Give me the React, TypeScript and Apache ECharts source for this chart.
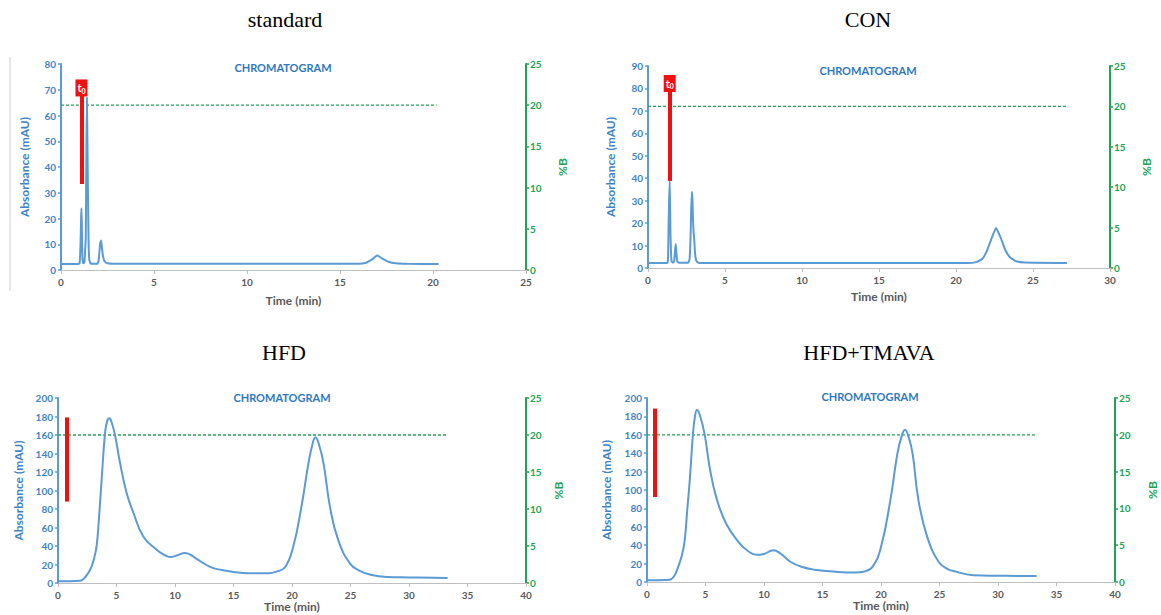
import React, { useEffect, useRef } from "react";
import * as echarts from "echarts";

// ---- Data (time in min, absorbance in mAU) ----
const panelTitles = ["standard", "CON", "HFD", "HFD+TMAVA"];
const xMax = [25, 30, 40, 40];
const yMax = [80, 90, 200, 200];
const yInterval = [10, 10, 20, 20];

const standardTrace: [number, number][] = [
  [0, 2.3], [0.9, 2.3], [1.0, 2.6], [1.05, 10], [1.08, 20], [1.1, 24], [1.12, 18], [1.15, 5], [1.2, 2.6],
  [1.26, 3], [1.3, 8], [1.33, 12], [1.36, 40], [1.39, 67], [1.42, 50], [1.45, 30], [1.48, 12], [1.52, 4],
  [1.6, 2.5], [1.95, 2.4], [2.03, 4], [2.1, 10], [2.16, 11.5], [2.21, 8], [2.27, 5], [2.35, 3.3], [2.5, 2.6],
  [3, 2.4], [16, 2.4], [16.4, 2.8], [16.7, 4], [17.0, 5.6], [17.3, 4.3], [17.6, 3.2], [18.0, 2.6], [18.6, 2.4],
  [20.3, 2.3],
];

const conTrace: [number, number][] = [
  [0, 2.2], [1.25, 2.2], [1.3, 4], [1.34, 20], [1.37, 30], [1.41, 38.8], [1.44, 25], [1.46, 15], [1.49, 8],
  [1.53, 3], [1.62, 2.4], [1.7, 3], [1.76, 8], [1.8, 10.7], [1.84, 7], [1.9, 3], [2.0, 2.3], [2.6, 2.3],
  [2.7, 4], [2.77, 15], [2.8, 25], [2.85, 34], [2.89, 30], [2.92, 22], [2.96, 16], [3.0, 13], [3.05, 7],
  [3.12, 3.5], [3.25, 2.4], [3.5, 2.2], [20.8, 2.2], [21.3, 2.6], [21.7, 4], [22.0, 7.5], [22.3, 13],
  [22.6, 17.8], [22.9, 13.5], [23.2, 8], [23.5, 4.8], [23.9, 3], [24.5, 2.4], [27.2, 2.2],
];

const hfdTrace: [number, number][] = [
  [0, 2], [1.0, 2], [1.9, 2.5], [2.3, 6], [2.74, 14], [3.05, 25], [3.3, 40], [3.5, 70], [3.73, 112], [4.02, 162],
  [4.2, 175], [4.39, 178], [4.6, 173], [4.87, 160], [5.3, 130], [5.87, 97], [6.44, 76], [7.3, 50], [8.43, 36],
  [9.0, 31], [9.6, 28], [10.2, 30], [10.85, 32.5], [11.4, 30], [11.85, 26], [13.0, 17.5], [14.0, 14], [15.0, 12],
  [16.7, 10.5], [18.0, 10.5], [18.6, 12], [19.4, 17], [20.1, 39], [20.8, 82], [21.4, 129], [21.75, 150],
  [22.0, 157.5], [22.3, 150], [22.7, 129], [23.25, 82], [23.96, 46], [24.96, 21], [25.8, 13], [26.7, 9],
  [28.1, 6.5], [30, 6], [33.3, 5.5],
];

const hfdTmavaTrace: [number, number][] = [
  [0, 2], [1.0, 2], [1.94, 2.5], [2.3, 6], [2.65, 16], [3.0, 30], [3.22, 45], [3.45, 80], [3.65, 110], [3.93, 161],
  [4.1, 180], [4.27, 187], [4.5, 182], [4.92, 161], [5.35, 125], [5.92, 92], [6.78, 63], [7.92, 42], [8.6, 34],
  [9.35, 29.5], [10.0, 30.5], [10.8, 34.5], [11.4, 31], [12.26, 22], [13.2, 16.5], [14.3, 13.4], [16.3, 11],
  [17.8, 10.3], [18.6, 11.5], [19.3, 17], [20.0, 38], [20.8, 89], [21.4, 139.6], [21.75, 158], [22.05, 165.5],
  [22.35, 158], [22.7, 139.6], [23.2, 89], [23.95, 49], [24.94, 21.7], [25.7, 14], [26.5, 10.9], [27.9, 7.3],
  [30, 6.8], [33.3, 6.5],
];

// %B gradient (right axis)
const standardB: [number, number][] = [[0, 20], [20.2, 20]];
const conB: [number, number][] = [[0, 20], [27.2, 20]];
const hfdB: [number, number][] = [[0, 20], [33.3, 20]];
const hfdTmavaB: [number, number][] = [[0, 20], [33.3, 20]];

// t0 markers: [time, top mAU, bottom mAU, hasLabel]
const t0Markers: [number, number, number, boolean][] = [
  [1.1, 74, 33.4, true],
  [1.41, 86, 38.8, true],
  [0.77, 179, 88, false],
  [0.68, 188.5, 92.4, false],
];

const traces = [standardTrace, conTrace, hfdTrace, hfdTmavaTrace];
const gradients = [standardB, conB, hfdB, hfdTmavaB];

// ---- Layout ----
const grids = [
  { left: 61, top: 64, width: 465, height: 206 },
  { left: 648, top: 66, width: 462, height: 202 },
  { left: 58, top: 398, width: 468, height: 185 },
  { left: 647, top: 398, width: 468, height: 184 },
];
const titlePos = [[285, 19], [868, 19], [284, 352], [869, 352]];
const chromPos = [[283, 67], [868, 70], [282, 397], [870, 396]];
const yNameGap = [31, 32, 34, 35];
const xNameGap = [24, 22, 17, 17];
const bNameGap = [30, 30, 26, 31];
const smoothness = [0.15, 0.15, 0.45, 0.45];

const BLUE = "#5b9bd5";
const BLUE_TEXT = "#3f83c6";
const GREEN = "#21a355";
const GRAY_TEXT = "#595959";
const FONT = "Lato, 'Open Sans', sans-serif";

export default function App() {
  const ref = useRef<HTMLDivElement>(null);
  useEffect(() => {
    if (!ref.current) return;
    const chart = echarts.init(ref.current, undefined, { renderer: "svg" });

    const xAxis: any[] = [];
    const yAxis: any[] = [];
    const series: any[] = [];
    const graphic: any[] = [];

    grids.forEach((g, i) => {
      xAxis.push({
        type: "value",
        gridIndex: i,
        min: 0,
        max: xMax[i],
        interval: 5,
        name: "Time (min)",
        nameLocation: "middle",
        nameGap: xNameGap[i],
        nameTextStyle: { color: GRAY_TEXT, fontSize: 12, fontWeight: "bold", fontFamily: FONT },
        axisLine: { show: true, onZero: false, lineStyle: { color: "#bfbfbf", width: 1 } },
        axisTick: { show: true, length: 4, lineStyle: { color: "#bfbfbf" } },
        axisLabel: { color: GRAY_TEXT, fontSize: 10, fontWeight: "bold", fontFamily: FONT, margin: 7 },
        splitLine: { show: false },
      });
      yAxis.push({
        type: "value",
        gridIndex: i,
        position: "left",
        min: 0,
        max: yMax[i],
        interval: yInterval[i],
        name: "Absorbance (mAU)",
        nameLocation: "middle",
        nameRotate: 90,
        nameGap: yNameGap[i],
        nameTextStyle: { color: BLUE_TEXT, fontSize: 12, fontWeight: "bold", fontFamily: FONT },
        axisLine: { show: true, lineStyle: { color: BLUE, width: 2 } },
        axisTick: { show: true, length: 3, lineStyle: { color: BLUE, width: 1.5 } },
        axisLabel: { color: BLUE_TEXT, fontSize: 10, fontWeight: "bold", fontFamily: FONT, margin: 5 },
        splitLine: { show: false },
      });
      yAxis.push({
        type: "value",
        gridIndex: i,
        position: "right",
        min: 0,
        max: 25,
        interval: 5,
        name: "%B",
        nameLocation: "middle",
        nameRotate: 90,
        nameGap: bNameGap[i],
        nameTextStyle: { color: GREEN, fontSize: 12, fontWeight: "bold", fontFamily: FONT },
        axisLine: { show: true, lineStyle: { color: GREEN, width: 2 } },
        axisTick: { show: true, length: 3, lineStyle: { color: GREEN, width: 1.5 } },
        axisLabel: { color: GREEN, fontSize: 10, fontWeight: "bold", fontFamily: FONT, margin: 4 },
        splitLine: { show: false },
      });

      const [t, top, bottom, hasLabel] = t0Markers[i];
      const markPoint = hasLabel
        ? {
            symbol: "rect",
            symbolSize: [12, 17],
            itemStyle: { color: "#ee1111" },
            label: {
              show: true,
              position: "inside",
              formatter: "{t|t}{s|0}",
              rich: {
                t: { color: "#fff", fontSize: 11, fontWeight: "bold", fontFamily: FONT },
                s: { color: "#fff", fontSize: 7, fontWeight: "bold", fontFamily: FONT, padding: [6, 0, 0, 0] },
              },
            },
            data: [{ coord: [t, top - (yMax[i] / g.height) * 8.5] }],
          }
        : undefined;

      series.push({
        type: "line",
        xAxisIndex: i,
        yAxisIndex: i * 2,
        data: traces[i],
        showSymbol: false,
        smooth: smoothness[i],
        lineStyle: { color: BLUE, width: 2 },
        itemStyle: { color: BLUE },
        z: 3,
        markLine: {
          silent: true,
          symbol: "none",
          label: { show: false },
          lineStyle: { color: "#ee1111", width: 4, type: "solid" },
          data: [[{ coord: [t, hasLabel ? top - (yMax[i] / g.height) * 16 : top] }, { coord: [t, bottom] }]],
        },
        markPoint,
      });
      series.push({
        type: "line",
        xAxisIndex: i,
        yAxisIndex: i * 2 + 1,
        data: gradients[i],
        showSymbol: false,
        lineStyle: { color: "#2ca05a", width: 1.3, type: [3, 2] },
        itemStyle: { color: "#2ca05a" },
        z: 2,
      });

      graphic.push({
        type: "text",
        x: titlePos[i][0],
        y: titlePos[i][1],
        style: {
          text: panelTitles[i],
          fill: "#000",
          font: "22px 'Liberation Serif', 'Times New Roman', serif",
          textAlign: "center",
          textVerticalAlign: "middle",
        },
      });
      graphic.push({
        type: "text",
        x: chromPos[i][0],
        y: chromPos[i][1],
        style: {
          text: "CHROMATOGRAM",
          fill: "#2e78c2",
          font: "bold 11px " + FONT,
          textAlign: "center",
          textVerticalAlign: "middle",
        },
      });
    });

    graphic.push({
      type: "line",
      shape: { x1: 10, y1: 57, x2: 10, y2: 291 },
      style: { stroke: "#d0d0d0", lineWidth: 1 },
    });

    chart.setOption({
      animation: false,
      backgroundColor: "#ffffff",
      grid: grids.map((g) => ({ ...g, containLabel: false })),
      xAxis,
      yAxis,
      series,
      graphic,
    });
    return () => chart.dispose();
  }, []);

  return (
    <div
      ref={ref}
      style={{ position: "fixed", left: 0, top: 0, width: 1161, height: 615, background: "#fff" }}
    />
  );
}
